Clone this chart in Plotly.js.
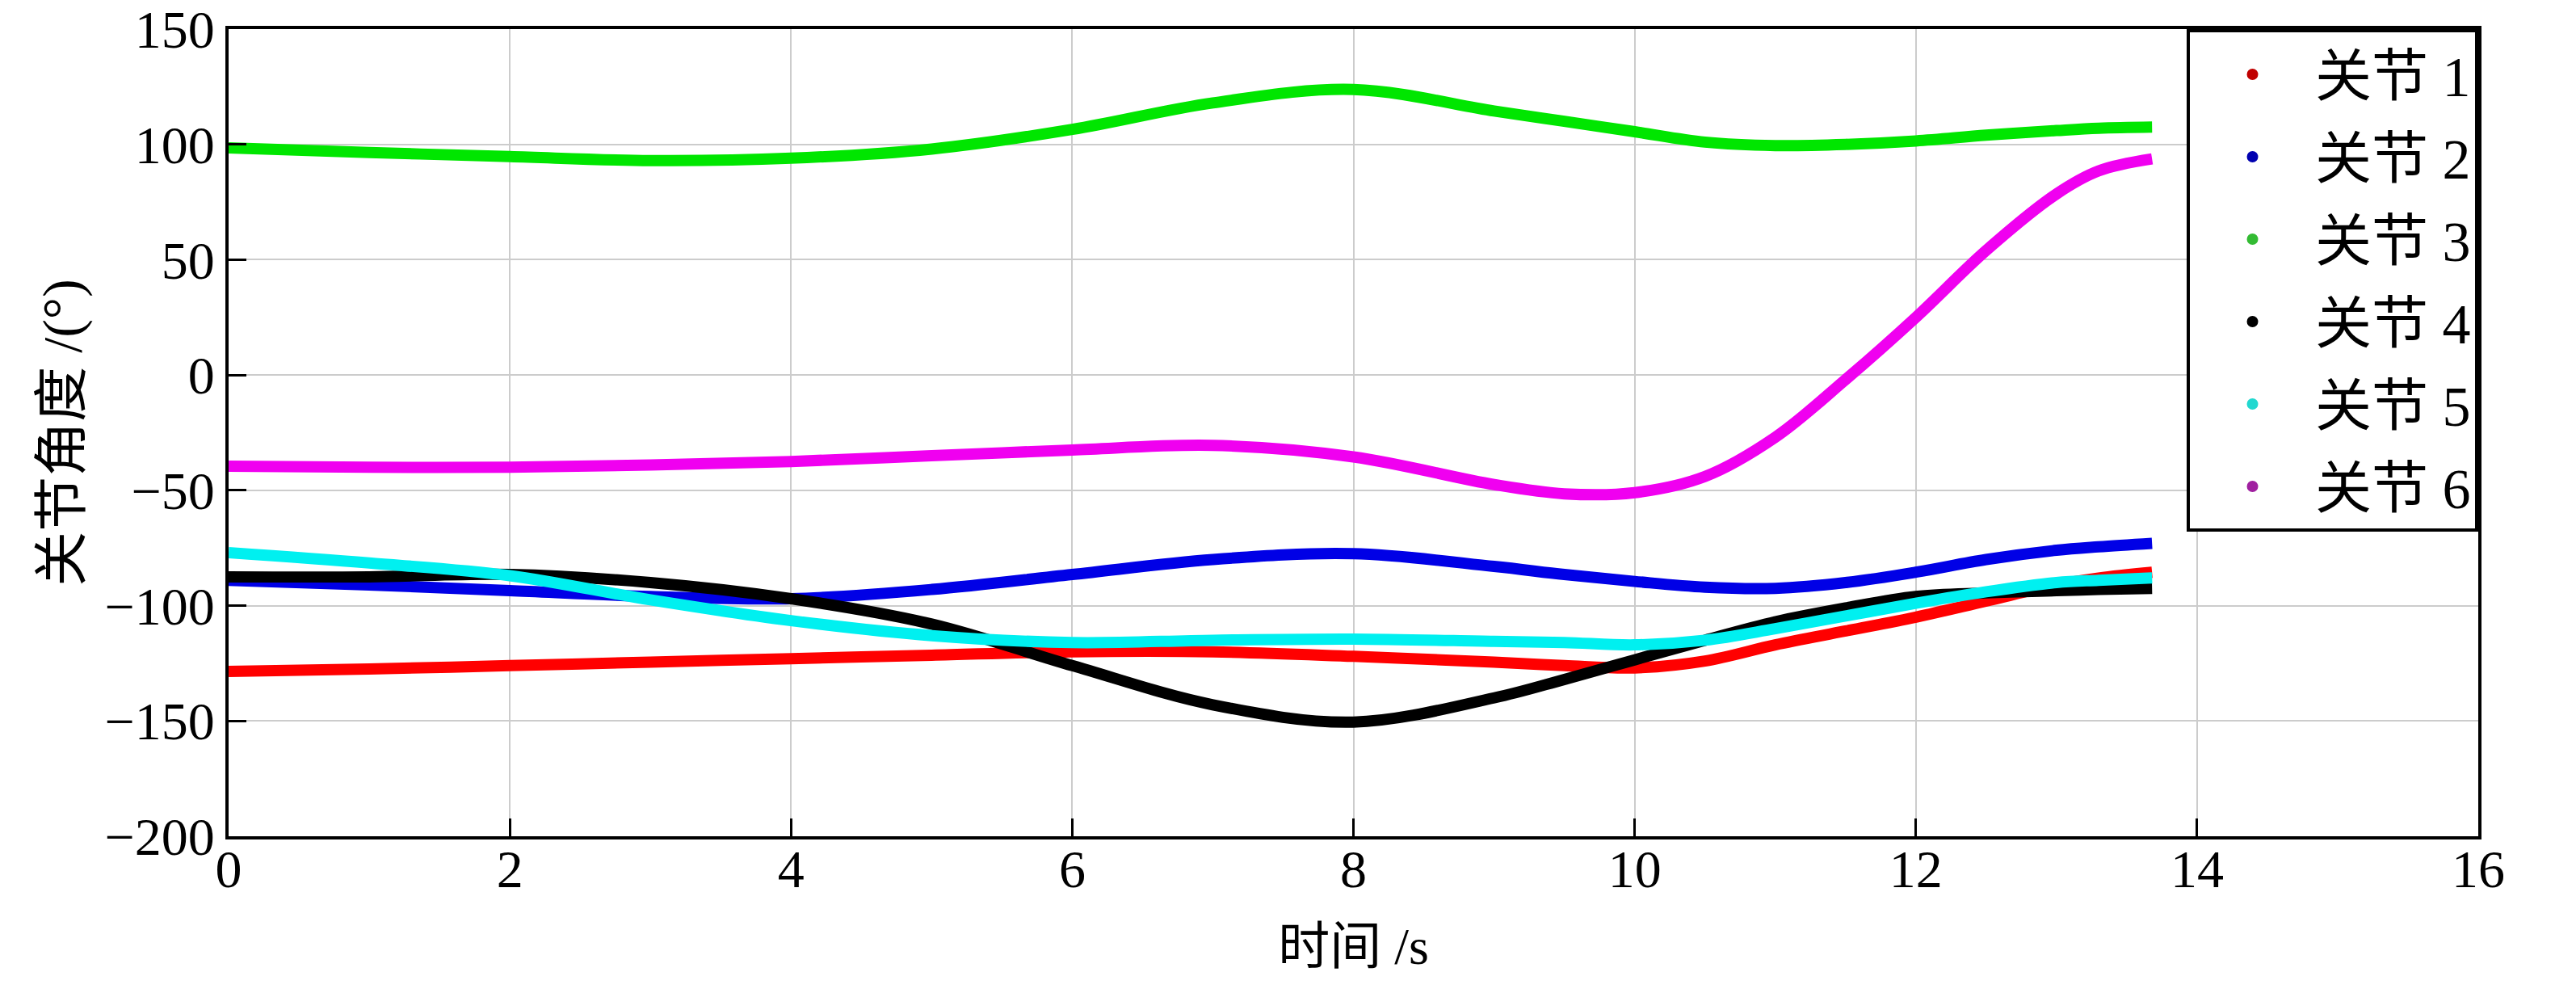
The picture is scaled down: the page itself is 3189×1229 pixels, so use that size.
<!DOCTYPE html>
<html>
<head>
<meta charset="utf-8">
<script src="https://cdn.plot.ly/plotly-3.0.1.min.js"></script>
<style>
  html, body { margin: 0; padding: 0; background: #fff; }
  #chart { width: 3189px; height: 1229px; }
</style>
</head>
<body>
<div id="chart"></div>
<script>
//------------INPUT DATA------------
// time, s
const TIME = [0, 1, 2, 3, 4, 5, 6, 7, 8, 9, 9.5, 10, 10.5, 11, 11.5, 12, 12.5, 13, 13.3, 13.68];

// joint angles, deg
const JOINT_1 = [-128.5, -127.5, -126, -124.5, -123, -121.5, -120, -120, -122, -124.5, -126, -127, -124, -117, -111, -105, -98, -91, -88, -85.5];
const JOINT_2 = [-89, -91, -93.5, -96, -97, -93, -86.5, -80, -77.5, -83, -86.5, -89.5, -92, -92.5, -90, -85.5, -80, -76, -74.5, -73];
const JOINT_3 = [98.5, 96.5, 94.7, 93, 94, 98, 106.5, 118, 123.8, 114.5, 110, 105.5, 101, 99.5, 100, 101.5, 104, 106, 107, 107.5];
const JOINT_4 = [-87.5, -87.5, -86.5, -90, -97, -108, -126, -143, -150.5, -140, -132, -123.5, -115, -107, -101, -96, -94.5, -93.5, -93, -92.5];
const JOINT_5 = [-77, -81.5, -87, -97.5, -106.5, -113, -116, -115, -114.5, -115.5, -116, -117, -115, -110, -104.5, -99, -94, -90, -89, -88];
const JOINT_6 = [-39.5, -40, -40, -39, -37.5, -35, -32.5, -30.5, -35.5, -47.5, -51.5, -51, -44, -27, -2, 25, 54, 78.5, 88.5, 93.7];

const NAMES = ["关节 1", "关节 2", "关节 3", "关节 4", "关节 5", "关节 6"];
const X_TICKS = [0, 2, 4, 6, 8, 10, 12, 14, 16];
const Y_TICKS = [-200, -150, -100, -50, 0, 50, 100, 150];
//------------END INPUT DATA------------

const LINE_COLORS = ["#ff0000", "#0000e6", "#00e600", "#000000", "#00f0f0", "#f000f0"];
const DOT_COLORS = ["#c00000", "#0000b0", "#33bb33", "#000000", "#22d8d0", "#a020a0"];
const FONT = "Liberation Serif, Times New Roman, Noto Sans CJK SC, serif";

function jointPlot() {
  const series = [JOINT_1, JOINT_2, JOINT_3, JOINT_4, JOINT_5, JOINT_6];
  const data = [];

  // curves
  series.forEach((ys, i) => {
    data.push({
      x: TIME,
      y: ys,
      type: "scatter",
      mode: "lines",
      line: { color: LINE_COLORS[i], width: 14, shape: "spline", smoothing: 1 },
      showlegend: false,
      hoverinfo: "none",
    });
  });

  // legend dots only
  series.forEach((ys, i) => {
    data.push({
      x: [null],
      y: [null],
      type: "scatter",
      mode: "markers",
      name: NAMES[i],
      legendgroup: "g" + i,
      marker: { color: DOT_COLORS[i], size: 14 },
      hoverinfo: "none",
    });
  });

  const axisCommon = {
    showline: true,
    linecolor: "#000",
    linewidth: 4,
    mirror: true,
    ticks: "inside",
    ticklen: 22,
    tickwidth: 3,
    tickcolor: "#000",
    showgrid: true,
    gridcolor: "#cccccc",
    gridwidth: 2,
    zeroline: false,
    tickfont: { family: FONT, size: 66, color: "#000" },
  };

  const layout = {
    width: 3189,
    height: 1229,
    margin: { t: 36, b: 194, l: 283, r: 121 },
    paper_bgcolor: "#fff",
    plot_bgcolor: "#fff",
    font: { family: FONT, color: "#000" },
    xaxis: Object.assign({}, axisCommon, {
      range: [0, 16],
      tickvals: X_TICKS,
      ticktext: X_TICKS.map(String),
      ticklabelstandoff: -20,
      title: { text: "时间 /s", font: { family: FONT, size: 64 }, standoff: 38 },
    }),
    yaxis: Object.assign({}, axisCommon, {
      range: [-200, 150],
      tickvals: Y_TICKS,
      ticktext: Y_TICKS.map((v) => (v < 0 ? "\u2212" + Math.abs(v) : String(v))),
      title: { text: "关节角度 /(°)", font: { family: FONT, size: 68 }, standoff: 8 },
    }),
    showlegend: true,
    legend: {
      x: 1,
      y: 1,
      xanchor: "right",
      yanchor: "top",
      bgcolor: "#fff",
      bordercolor: "#000",
      borderwidth: 4,
      font: { family: FONT, size: 70, color: "#000" },
      traceorder: "grouped",
      tracegroupgap: 8,
      itemwidth: 145,
    },
  };

  Plotly.newPlot("chart", data, layout, { staticPlot: true });
}

jointPlot();
</script>
</body>
</html>
